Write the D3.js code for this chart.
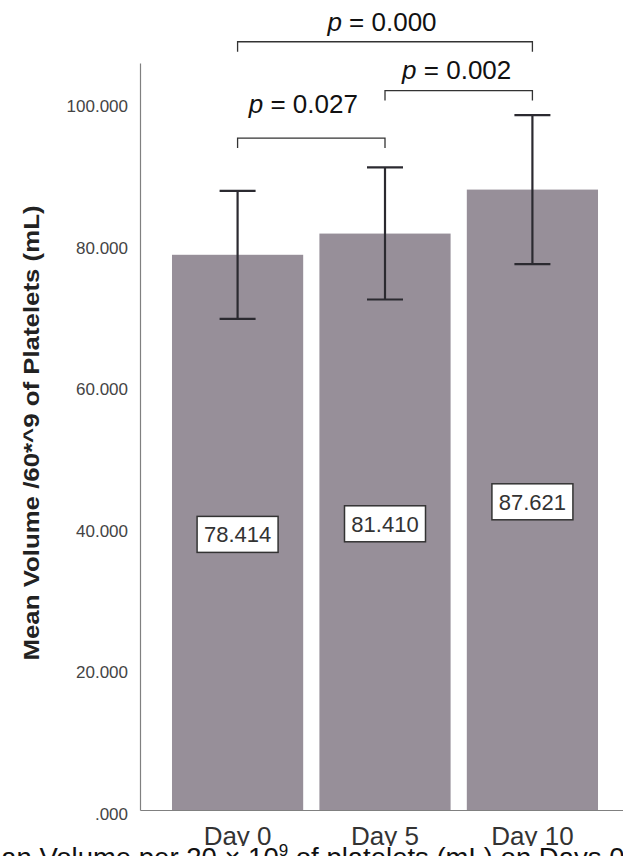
<!DOCTYPE html>
<html>
<head>
<meta charset="utf-8">
<script src="https://cdn.jsdelivr.net/npm/d3@7"></script>
<style>
  body { margin: 0; background: #fff; }
  svg { display: block; font-family: Arial, "Liberation Sans", sans-serif; }
</style>
</head>
<body>
<svg width="623" height="856"></svg>
<script>
// Data
const categories = ['Day 0', 'Day 5', 'Day 10'];
const means = [78.414, 81.410, 87.621];
const ciLower = [69.35, 72.1, 77.1];
const ciUpper = [87.45, 90.75, 98.15];
const yTicks = [0, 20, 40, 60, 80, 100];
const compFrom = ['Day 0', 'Day 5', 'Day 0'];
const compTo = ['Day 5', 'Day 10', 'Day 10'];
const compP = ['0.027', '0.002', '0.000'];
const compLevel = [94.9, 101.6, 108.5];

const yTitle = 'Mean Volume /60*^9 of Platelets (mL)';

// Constants
const svg = d3.select('svg');
const width = +svg.attr('width');
const height = +svg.attr('height');
const barColor = '#978f99';
const inkColor = '#2b2a30';

const x = d3.scaleBand()
    .domain(categories)
    .range([140, 630])
    .paddingInner(0.11)
    .paddingOuter(0.217);

const y = d3.scaleLinear()
    .domain([0, 105.5])
    .range([810, 63]);

const cx = d => x(d) + x.bandwidth() / 2;

// Bars
svg.append('g')
    .selectAll('rect')
    .data(categories)
    .enter()
    .append('rect')
    .attr('x', d => x(d))
    .attr('y', (d, i) => y(means[i]))
    .attr('width', x.bandwidth())
    .attr('height', (d, i) => y(0) - y(means[i]))
    .attr('fill', barColor);

// Y axis
const yAxis = svg.append('g')
    .attr('transform', 'translate(140,0)')
    .call(d3.axisLeft(y)
        .tickValues(yTicks)
        .tickSize(0)
        .tickSizeOuter(0)
        .tickPadding(12)
        .tickFormat(d => d === 0 ? '.000' : d3.format('.3f')(d)));
yAxis.select('.domain').attr('stroke', '#808080').attr('stroke-width', 1.2);
yAxis.selectAll('text')
    .attr('font-size', '17px')
    .attr('font-family', 'Arial, "Liberation Sans", sans-serif')
    .attr('fill', '#444')
    .attr('transform', 'translate(0,4)');

// X axis
const xAxis = svg.append('g')
    .attr('transform', `translate(0,${y(0)})`)
    .call(d3.axisBottom(x).tickSize(0).tickSizeOuter(0));
xAxis.select('.domain').attr('stroke', '#808080').attr('stroke-width', 1.2);
xAxis.selectAll('text')
    .attr('y', 35)
    .attr('dy', 0)
    .attr('font-size', '26px')
    .attr('font-family', 'Arial, "Liberation Sans", sans-serif')
    .attr('fill', '#333');

// Error bars
const err = svg.append('g')
    .attr('stroke', inkColor)
    .attr('stroke-width', 2.2);
categories.forEach((c, i) => {
    err.append('line')
        .attr('x1', cx(c)).attr('x2', cx(c))
        .attr('y1', y(ciLower[i])).attr('y2', y(ciUpper[i]));
    [ciLower[i], ciUpper[i]].forEach(v => {
        err.append('line')
            .attr('x1', cx(c) - 18).attr('x2', cx(c) + 18)
            .attr('y1', y(v)).attr('y2', y(v));
    });
});

// Value labels
categories.forEach((c, i) => {
    const g = svg.append('g')
        .attr('transform', `translate(${cx(c)},${y(means[i] / 2) + 2})`);
    g.append('rect')
        .attr('x', -40.5).attr('y', -18)
        .attr('width', 81).attr('height', 36)
        .attr('fill', '#fff')
        .attr('stroke', '#333')
        .attr('stroke-width', 1.5);
    g.append('text')
        .attr('text-anchor', 'middle')
        .attr('dy', '0.36em')
        .attr('font-size', '22px')
        .attr('fill', '#333')
        .text(d3.format('.3f')(means[i]));
});

// Significance brackets
const labelLift = [25, 12, 11];
const labelShift = [-8, -2, -3];
compP.forEach((p, i) => {
    const x1 = cx(compFrom[i]);
    const x2 = cx(compTo[i]);
    const yb = y(compLevel[i]);
    svg.append('path')
        .attr('d', `M${x1},${yb + 10}V${yb}H${x2}V${yb + 10}`)
        .attr('fill', 'none')
        .attr('stroke', '#333')
        .attr('stroke-width', 1.3);
    const t = svg.append('text')
        .attr('x', (x1 + x2) / 2 + labelShift[i])
        .attr('y', yb - labelLift[i])
        .attr('text-anchor', 'middle')
        .attr('font-size', '26px')
        .attr('fill', '#111');
    t.append('tspan').attr('font-style', 'italic').text('p');
    t.append('tspan').text(' = ' + p);
});

// Y title
svg.append('text')
    .attr('transform', 'translate(39,433) rotate(-90)')
    .attr('text-anchor', 'middle')
    .attr('font-size', '22px')
    .attr('font-weight', 'bold')
    .attr('fill', '#222')
    .attr('textLength', 455)
    .attr('lengthAdjust', 'spacingAndGlyphs')
    .text(yTitle);

// Caption (cut off at bottom edge)
svg.append('rect')
    .attr('x', 0).attr('y', 846)
    .attr('width', width).attr('height', height - 846)
    .attr('fill', '#fff');
const cap = svg.append('text')
    .attr('x', -37)
    .attr('y', 867)
    .attr('font-size', '27.5px')
    .attr('fill', '#111');
cap.append('tspan').text('Mean Volume per 20 × 10');
cap.append('tspan').attr('font-size', '17px').attr('dy', -11).text('9');
cap.append('tspan').attr('dy', 11).text(' of platelets (mL) on Days 0, 5 and 10');
</script>
</body>
</html>
